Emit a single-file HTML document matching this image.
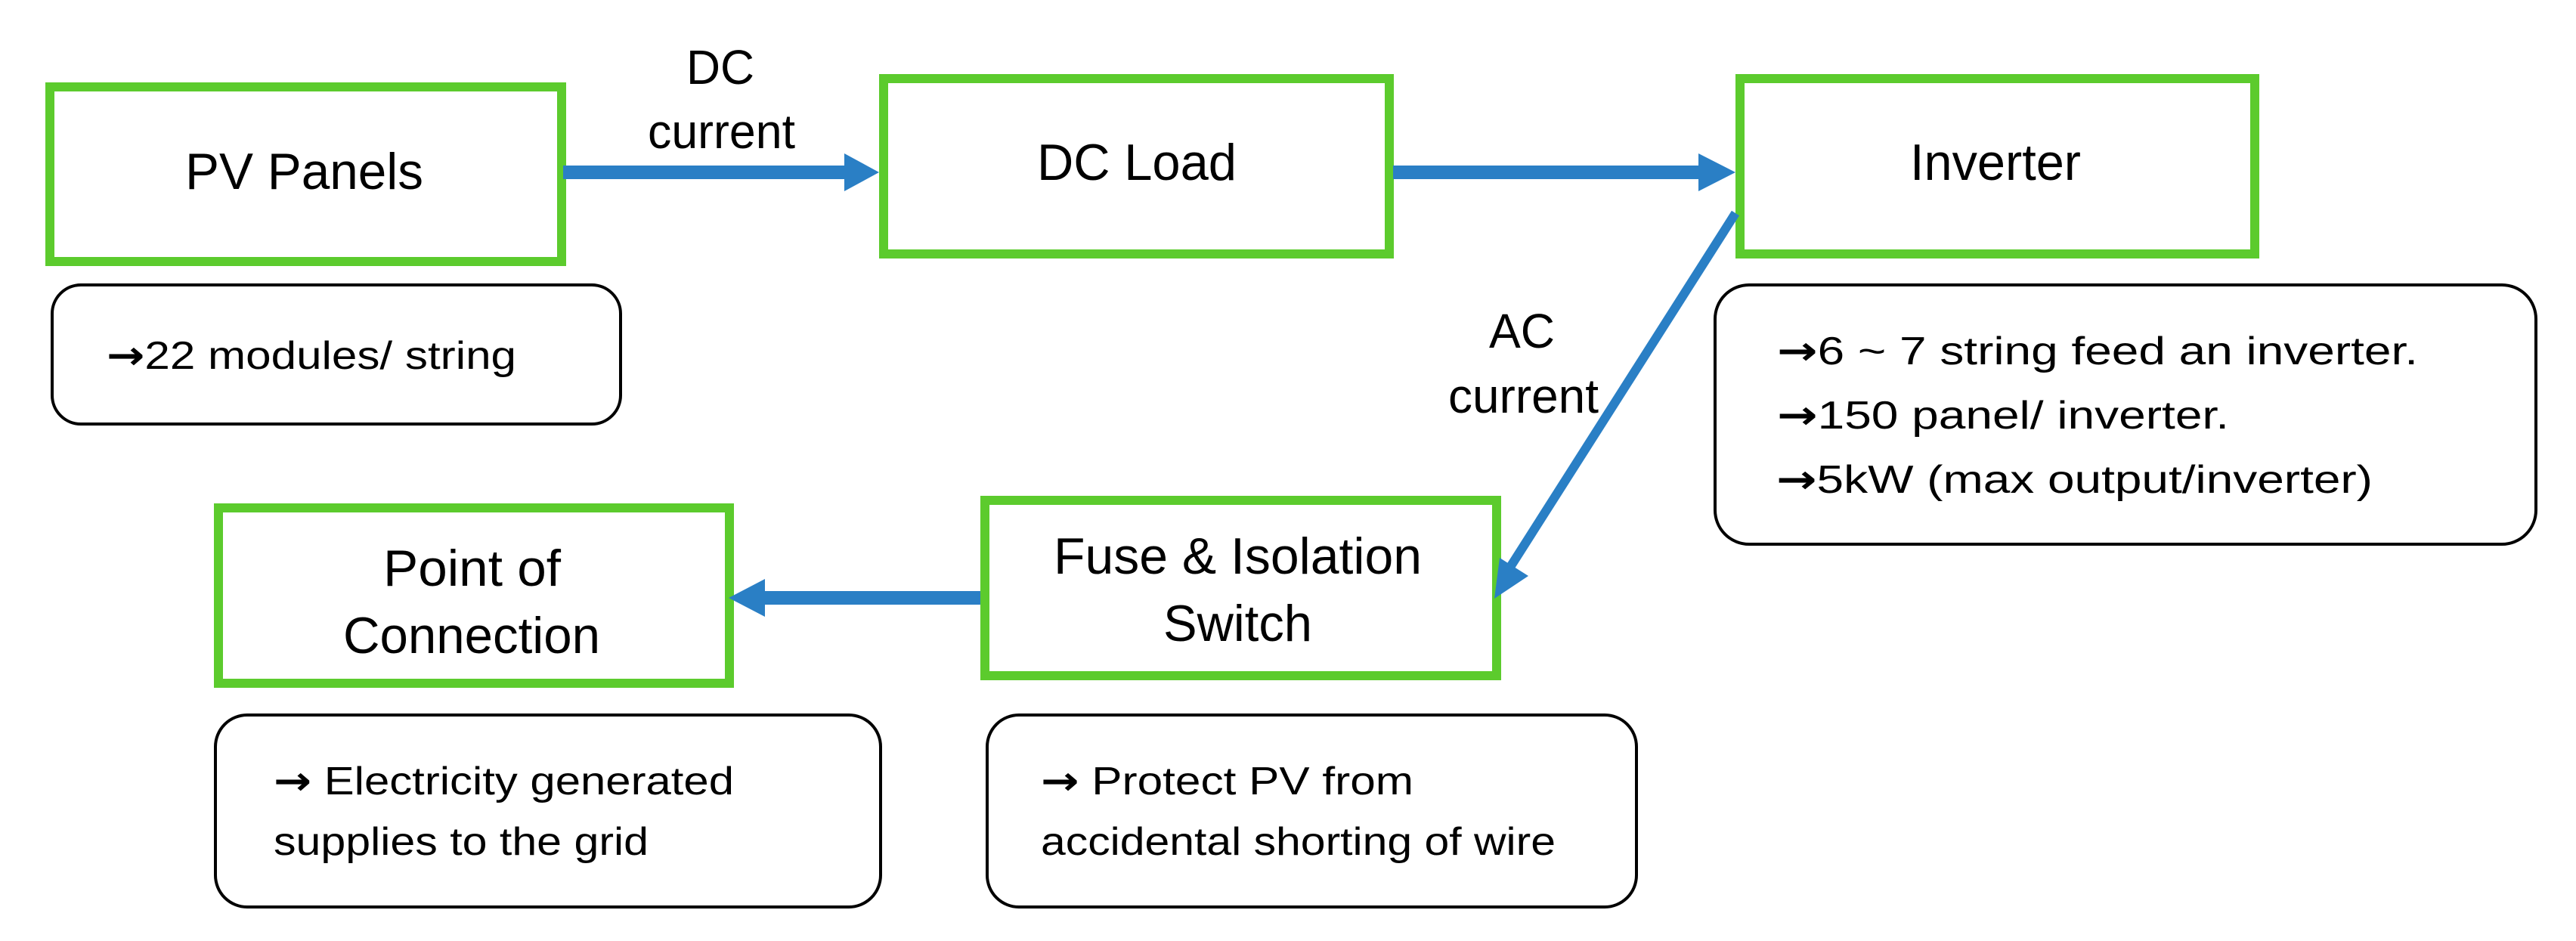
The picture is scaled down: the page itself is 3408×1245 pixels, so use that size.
<!DOCTYPE html>
<html><head><meta charset="utf-8"><style>html,body{margin:0;padding:0;background:#fff}svg{display:block}.a{font-family:"DejaVu Sans",sans-serif;font-weight:bold}</style></head>
<body>
<svg width="3408" height="1245" viewBox="0 0 3408 1245" xmlns="http://www.w3.org/2000/svg" font-family="Liberation Sans, Arial, sans-serif" fill="#000">
<rect width="3408" height="1245" fill="#fff"/>
<g fill="none" stroke="#5ccb2d" stroke-width="12">
<rect x="66" y="115" width="677" height="231"/>
<rect x="1169" y="104" width="669" height="232"/>
<rect x="2302" y="104" width="681" height="232"/>
<rect x="289" y="672" width="676" height="232"/>
<rect x="1303" y="662" width="677" height="232"/>
</g>
<g fill="none" stroke="#000" stroke-width="4">
<rect x="69" y="377" width="752" height="184" rx="38"/>
<rect x="2269" y="377" width="1086" height="343" rx="45"/>
<rect x="285" y="946" width="880" height="254" rx="42"/>
<rect x="1306" y="946" width="859" height="254" rx="42"/>
</g>
<g fill="#2a7fc5">
<polygon points="745,219 1117,219 1117,203 1163,228 1117,253 1117,237 745,237"/>
<polygon points="1843,219 2247,219 2247,203 2296,228 2247,253 2247,237 1843,237"/>
<polygon points="1297,782 1012,782 1012,766 964,791 1012,816 1012,800 1297,800"/>
<line x1="2296" y1="282" x2="1995" y2="755" stroke="#2a7fc5" stroke-width="12"/>
<polygon points="1977,792 1984,738 2022,762"/>
</g>
<g font-size="68">
<text x="245" y="250" textLength="315" lengthAdjust="spacingAndGlyphs">PV Panels</text>
<text x="1372" y="238" textLength="264" lengthAdjust="spacingAndGlyphs">DC Load</text>
<text x="2527" y="238" textLength="226" lengthAdjust="spacingAndGlyphs">Inverter</text>
<text x="507" y="775" textLength="235" lengthAdjust="spacingAndGlyphs">Point of</text>
<text x="454" y="864" textLength="340" lengthAdjust="spacingAndGlyphs">Connection</text>
<text x="1394" y="759" textLength="487" lengthAdjust="spacingAndGlyphs">Fuse &amp; Isolation</text>
<text x="1539" y="848" textLength="197" lengthAdjust="spacingAndGlyphs">Switch</text>
</g>
<g font-size="64">
<text x="908" y="111" textLength="90" lengthAdjust="spacingAndGlyphs">DC</text>
<text x="857" y="196" textLength="195" lengthAdjust="spacingAndGlyphs">current</text>
<text x="1970" y="460" textLength="87" lengthAdjust="spacingAndGlyphs">AC</text>
<text x="1916" y="546" textLength="199" lengthAdjust="spacingAndGlyphs">current</text>
</g>
<g font-size="52">
<text x="141" y="488" textLength="542" lengthAdjust="spacingAndGlyphs"><tspan class="a">→</tspan>22 modules/ string</text>
<text x="2351" y="482" textLength="848" lengthAdjust="spacingAndGlyphs"><tspan class="a">→</tspan>6 ~ 7 string feed an inverter.</text>
<text x="2351" y="567" textLength="598" lengthAdjust="spacingAndGlyphs"><tspan class="a">→</tspan>150 panel/ inverter.</text>
<text x="2350" y="652" textLength="789" lengthAdjust="spacingAndGlyphs"><tspan class="a">→</tspan>5kW (max output/inverter)</text>
<text x="362" y="1051" textLength="609" lengthAdjust="spacingAndGlyphs"><tspan class="a">→</tspan> Electricity generated</text>
<text x="362" y="1131" textLength="496" lengthAdjust="spacingAndGlyphs">supplies to the grid</text>
<text x="1377" y="1051" textLength="493" lengthAdjust="spacingAndGlyphs"><tspan class="a">→</tspan> Protect PV from</text>
<text x="1377" y="1131" textLength="681" lengthAdjust="spacingAndGlyphs">accidental shorting of wire</text>
</g>
</svg>
</body></html>
